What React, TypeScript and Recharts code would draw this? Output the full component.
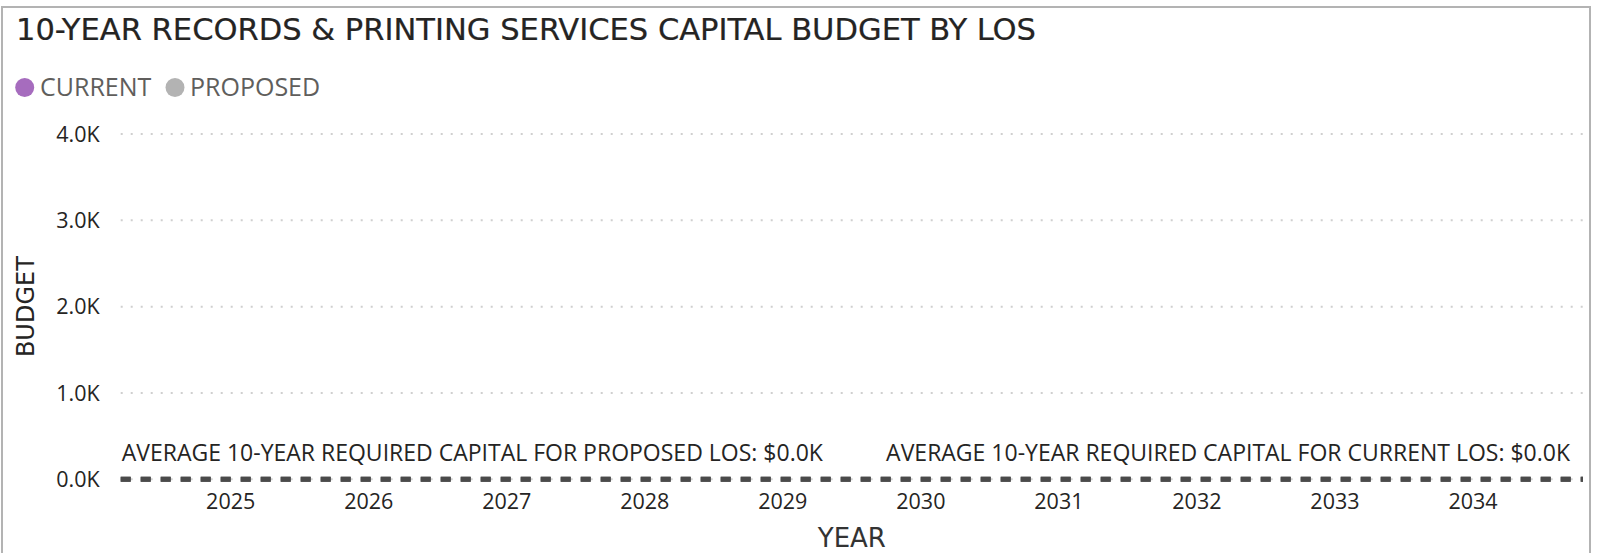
import { Bar, BarChart, CartesianGrid, ReferenceLine, XAxis, YAxis } from 'recharts'

const YEARS = ['2025', '2026', '2027', '2028', '2029', '2030', '2031', '2032', '2033', '2034']
const CURRENT = [0, 0, 0, 0, 0, 0, 0, 0, 0, 0]
const PROPOSED = [0, 0, 0, 0, 0, 0, 0, 0, 0, 0]
const Y_TICKS = [0, 1000, 2000, 3000, 4000]
const AVG_CURRENT = 0
const AVG_PROPOSED = 0

const TITLE = '10-YEAR RECORDS & PRINTING SERVICES CAPITAL BUDGET BY LOS'
const SANS = '"Segoe UI", "Open Sans", sans-serif'
const DIN = '"DejaVu Sans Condensed", "DejaVu Sans", sans-serif'
const WIDE = '"DejaVu Sans", sans-serif'
const COLORS = { current: '#a66cbe', proposed: '#b3b3b3', text: '#252423', muted: '#605e5c', line: '#4a4a4a' }

const data = YEARS.map((year, i) => ({ year, current: CURRENT[i], proposed: PROPOSED[i] }))

function kLabel(v: number) {
  return `${(v / 1000).toFixed(1)}K`
}

function avgLabel(text: string, side: 'left' | 'right') {
  return (props: any) => {
    const vb = props.viewBox || {}
    const x = side === 'left' ? vb.x + 1 : vb.x + vb.width - 13
    return (
      <text x={x} y={vb.y - 18} textAnchor={side === 'left' ? 'start' : 'end'} fill={COLORS.text} fontSize={23} fontFamily={SANS}>
        {text}
      </text>
    )
  }
}

function BudgetTitle(props: any) {
  const vb = props.viewBox || {}
  const cx = 26.5
  const cy = vb.y + vb.height / 2
  return (
    <text x={cx} y={cy} transform={`rotate(-90 ${cx} ${cy})`} textAnchor="middle" dominantBaseline="central" fill={COLORS.text} fontSize={24} fontFamily={WIDE}>
      BUDGET
    </text>
  )
}

function YearTitle(props: any) {
  const vb = props.viewBox || {}
  return (
    <text x={vb.x + vb.width / 2} y={546.5} textAnchor="middle" fill="#333" fontSize={26} fontFamily={WIDE}>
      YEAR
    </text>
  )
}

export default function App() {
  return (
    <div style={{ position: 'absolute', left: 0, top: 0, width: 1600, height: 553, overflow: 'hidden', background: '#fff' }}>
      <div style={{ position: 'absolute', left: 1, top: 6, width: 1590, height: 600, border: '2px solid #b3b3b3', boxSizing: 'border-box' }} />
      <svg width={1600} height={110} style={{ position: 'absolute', left: 0, top: 0 }}>
        <text x={16} y={40} textLength={1020} lengthAdjust="spacingAndGlyphs" fill={COLORS.text} stroke={COLORS.text} strokeWidth={0.2} fontSize={30} fontFamily={DIN}>
          {TITLE}
        </text>
        <circle cx={24.7} cy={87.5} r={9.5} fill={COLORS.current} />
        <text x={40} y={96} fill={COLORS.muted} fontSize={25} fontFamily={SANS}>CURRENT</text>
        <circle cx={175} cy={87.5} r={9.5} fill={COLORS.proposed} />
        <text x={190} y={96} fill={COLORS.muted} fontSize={25} fontFamily={SANS}>PROPOSED</text>
      </svg>
      <div style={{ position: 'absolute', left: 0, top: 0 }}>
        <BarChart width={1600} height={553} data={data} margin={{ top: 134, right: 17, bottom: 0, left: 0 }}>
          <CartesianGrid horizontal vertical={false} stroke="#cfcfcf" strokeWidth={2} strokeDasharray="2 8" />
          <XAxis
            dataKey="year"
            height={73.7}
            axisLine={false}
            tickLine={false}
            tickSize={0}
            tickMargin={14}
            padding={{ left: 41, right: 41 }}
            tick={{ fill: COLORS.text, fontSize: 21.5, fontFamily: SANS }}
            label={<YearTitle />}
          />
          <YAxis
            width={120.7}
            domain={[0, 4000]}
            ticks={Y_TICKS}
            tickFormatter={kLabel}
            axisLine={false}
            tickLine={false}
            tickSize={0}
            tickMargin={21}
            tick={{ fill: COLORS.text, fontSize: 21.5, fontFamily: SANS }}
            label={<BudgetTitle />}
          />
          <Bar dataKey="current" fill={COLORS.current} isAnimationActive={false} />
          <Bar dataKey="proposed" fill={COLORS.proposed} isAnimationActive={false} />
          <ReferenceLine
            y={AVG_PROPOSED}
            stroke={COLORS.line}
            strokeWidth={5}
            strokeDasharray="10 10"
            label={avgLabel(`AVERAGE 10-YEAR REQUIRED CAPITAL FOR PROPOSED LOS: $${kLabel(AVG_PROPOSED)}`, 'left')}
          />
          <ReferenceLine
            y={AVG_CURRENT}
            stroke={COLORS.line}
            strokeWidth={5}
            strokeDasharray="10 10"
            label={avgLabel(`AVERAGE 10-YEAR REQUIRED CAPITAL FOR CURRENT LOS: $${kLabel(AVG_CURRENT)}`, 'right')}
          />
        </BarChart>
      </div>
    </div>
  )
}
